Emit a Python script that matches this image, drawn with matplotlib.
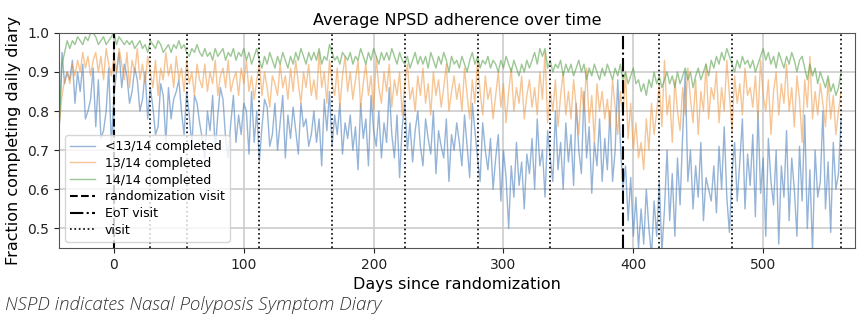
import numpy as np
import matplotlib
matplotlib.use("Agg")
import matplotlib.pyplot as plt

# days since randomization, sampled every 2 days
days = np.arange(-42, 561, 2)

# fraction completing the daily diary (in %)
lt13 = [77, 95, 87, 90, 88, 93, 82, 90, 85, 92, 78, 80, 83, 91,
        76, 88, 73, 75, 80, 91, 71, 84, 90, 95, 86, 92, 89, 82,
        85, 91, 88, 80, 83, 90, 78, 86, 81, 74, 76, 87, 84, 72,
        86, 78, 83, 85, 88, 80, 74, 85, 79, 71, 84, 82, 77, 73,
        68, 80, 75, 84, 70, 79, 86, 83, 73, 68, 77, 84, 72, 79,
        74, 82, 80, 69, 85, 72, 80, 67, 76, 83, 81, 71, 74, 82,
        70, 77, 84, 68, 79, 73, 81, 75, 69, 82, 76, 78, 71, 74,
        80, 72, 78, 66, 83, 75, 85, 71, 79, 74, 82, 69, 77, 73,
        79, 70, 76, 65, 82, 73, 78, 66, 84, 75, 71, 80, 68, 77,
        72, 86, 74, 68, 79, 63, 76, 82, 70, 77, 67, 75, 80, 71,
        66, 78, 73, 69, 80, 64, 75, 71, 68, 78, 62, 74, 70, 77,
        72, 66, 79, 71, 63, 82, 75, 68, 62, 77, 70, 65, 73, 60,
        68, 74, 57, 70, 63, 50, 66, 58, 72, 61, 67, 55, 69, 64,
        73, 60, 78, 66, 70, 58, 75, 68, 62, 80, 65, 72, 60, 77,
        67, 74, 61, 82, 70, 64, 85, 68, 76, 59, 72, 66, 78, 62,
        73, 65, 80, 62, 70, 88, 72, 60, 66, 52, 63, 48, 58, 45,
        55, 46, 60, 50, 43, 57, 48, 62, 44, 55, 70, 52, 64, 48,
        68, 56, 74, 90, 62, 70, 55, 66, 58, 72, 52, 63, 60, 57,
        66, 54, 71, 60, 76, 58, 49, 64, 72, 57, 67, 78, 55, 69,
        61, 74, 53, 80, 59, 68, 48, 73, 62, 56, 70, 46, 66, 58,
        75, 52, 68, 60, 48, 71, 57, 79, 50, 65, 44, 70, 58, 62,
        80, 55, 67, 49, 72, 60, 64, 78]

c13 = [77, 84, 88, 90, 87, 92, 89, 93, 90, 95, 91, 94, 89, 93,
       95, 90, 94, 88, 96, 92, 89, 94, 90, 96, 92, 88, 95, 86,
       93, 90, 96, 88, 92, 87, 94, 90, 86, 93, 84, 91, 88, 95,
       89, 92, 86, 94, 88, 91, 85, 93, 87, 90, 84, 92, 88, 86,
       92, 85, 90, 87, 93, 84, 89, 91, 86, 93, 85, 88, 90, 84,
       91, 87, 93, 85, 89, 83, 88, 92, 84, 90, 86, 81, 89, 87,
       84, 92, 86, 89, 83, 91, 85, 93, 87, 82, 90, 86, 92, 84,
       88, 83, 95, 86, 90, 82, 93, 87, 84, 91, 81, 89, 94, 85,
       90, 83, 88, 93, 81, 87, 92, 84, 89, 80, 94, 86, 82, 90,
       85, 92, 81, 88, 84, 90, 79, 87, 92, 83, 86, 80, 89, 84,
       91, 82, 87, 79, 90, 84, 88, 81, 86, 92, 80, 85, 89, 83,
       87, 80, 91, 84, 78, 88, 82, 93, 85, 79, 89, 83, 86, 78,
       84, 90, 81, 87, 77, 85, 91, 80, 86, 82, 89, 78, 84, 88,
       81, 86, 79, 90, 83, 95, 77, 85, 80, 88, 76, 84, 90, 79,
       85, 78, 88, 81, 74, 86, 80, 91, 77, 84, 72, 87, 80, 85,
       78, 83, 76, 88, 81, 74, 85, 79, 90, 73, 82, 70, 77, 68,
       72, 65, 78, 70, 82, 74, 80, 87, 76, 93, 79, 84, 72, 88,
       80, 75, 86, 79, 91, 83, 77, 88, 74, 85, 80, 92, 78, 86,
       83, 90, 77, 86, 80, 93, 84, 75, 89, 82, 87, 79, 91, 84,
       86, 81, 89, 78, 93, 84, 80, 88, 74, 85, 90, 79, 87, 82,
       92, 80, 86, 76, 89, 83, 72, 88, 81, 94, 78, 85, 79, 87,
       82, 76, 88, 78, 84, 74, 80, 85]

c14 = [77, 92, 95, 98, 96, 98, 97, 99, 98, 97, 99, 98, 100, 100,
       99, 97, 98, 99, 97, 98, 99, 100, 97, 99, 98, 97, 98, 97,
       98, 96, 97, 98, 96, 97, 95, 98, 97, 96, 98, 97, 95, 96,
       97, 95, 97, 96, 98, 96, 97, 95, 94, 96, 95, 97, 95, 94,
       96, 94, 95, 93, 96, 94, 95, 96, 93, 95, 94, 96, 93, 95,
       94, 96, 93, 95, 92, 94, 96, 93, 91, 94, 92, 95, 93, 91,
       94, 92, 95, 93, 91, 94, 92, 95, 93, 96, 94, 92, 95, 93,
       95, 93, 96, 92, 94, 93, 97, 95, 93, 94, 92, 95, 94, 93,
       95, 92, 94, 93, 96, 94, 92, 95, 93, 96, 94, 92, 95, 93,
       95, 93, 96, 94, 92, 95, 93, 92, 94, 91, 93, 95, 92, 94,
       92, 94, 91, 95, 93, 91, 94, 92, 95, 93, 90, 94, 92, 93,
       91, 94, 92, 90, 93, 95, 92, 94, 91, 93, 92, 94, 91, 93,
       92, 90, 93, 91, 94, 92, 90, 93, 91, 89, 92, 90, 93, 91,
       93, 95, 92, 96, 94, 96, 91, 93, 90, 92, 91, 93, 89, 92,
       90, 92, 89, 91, 93, 90, 92, 88, 91, 89, 92, 90, 88, 91,
       89, 92, 90, 88, 91, 89, 92, 88, 90, 87, 89, 91, 87, 88,
       85, 87, 84, 88, 86, 90, 87, 89, 86, 88, 90, 87, 89, 86,
       90, 87, 89, 91, 88, 90, 86, 89, 91, 88, 90, 92, 89, 93,
       91, 94, 92, 95, 93, 96, 94, 92, 90, 93, 91, 94, 92, 93,
       91, 93, 90, 92, 94, 96, 93, 95, 92, 94, 91, 95, 93, 91,
       94, 92, 95, 93, 90, 93, 94, 91, 88, 92, 89, 91, 87, 90,
       88, 86, 89, 85, 87, 84, 86, 90]

rand_day = 0
eot_day = 392
visit_days = [28, 56, 112, 168, 224, 280, 336, 420, 476, 560]

fig = plt.figure(figsize=(8.64, 3.32), dpi=100)
ax = fig.add_axes([0.068, 0.253, 0.922, 0.648])

ax.plot(days, np.array(lt13) / 100, color="#4f83bd", alpha=0.6, lw=1.0, label="<13/14 completed")
ax.plot(days, np.array(c13) / 100, color="#f0963e", alpha=0.55, lw=1.0, label="13/14 completed")
ax.plot(days, np.array(c14) / 100, color="#5aa34e", alpha=0.6, lw=1.0, label="14/14 completed")

ax.axvline(rand_day, color="k", ls="--", lw=1.5, label="randomization visit")
ax.axvline(eot_day, color="k", ls="-.", lw=1.5, label="EoT visit")
for i, d in enumerate(visit_days):
    ax.axvline(d, color="k", ls=":", lw=1.2, label="visit" if i == 0 else None)

ax.set_xlim(-42.5, 571)
ax.set_ylim(0.45, 1.0)
ax.set_yticks([0.5, 0.6, 0.7, 0.8, 0.9, 1.0])
ax.grid(True, color="#cccccc", lw=1.2)
ax.set_axisbelow(True)
for s in ax.spines.values():
    s.set_color("#555555")
ax.tick_params(labelsize=10, colors="#222222")

ax.set_title("Average NPSD adherence over time", fontsize=11.5)
ax.set_xlabel("Days since randomization", fontsize=11.5)
ax.set_ylabel("Fraction completing daily diary", fontsize=11.5)
ax.legend(loc="lower left", fontsize=9, framealpha=0.8, labelspacing=0.3)

fig.text(0.006, 0.08, "NSPD indicates Nasal Polyposis Symptom Diary",
         family="Open Sans", style="italic", weight="light", fontsize=13.5,
         color="#333333", va="center")

fig.savefig("out.png", dpi=100)
